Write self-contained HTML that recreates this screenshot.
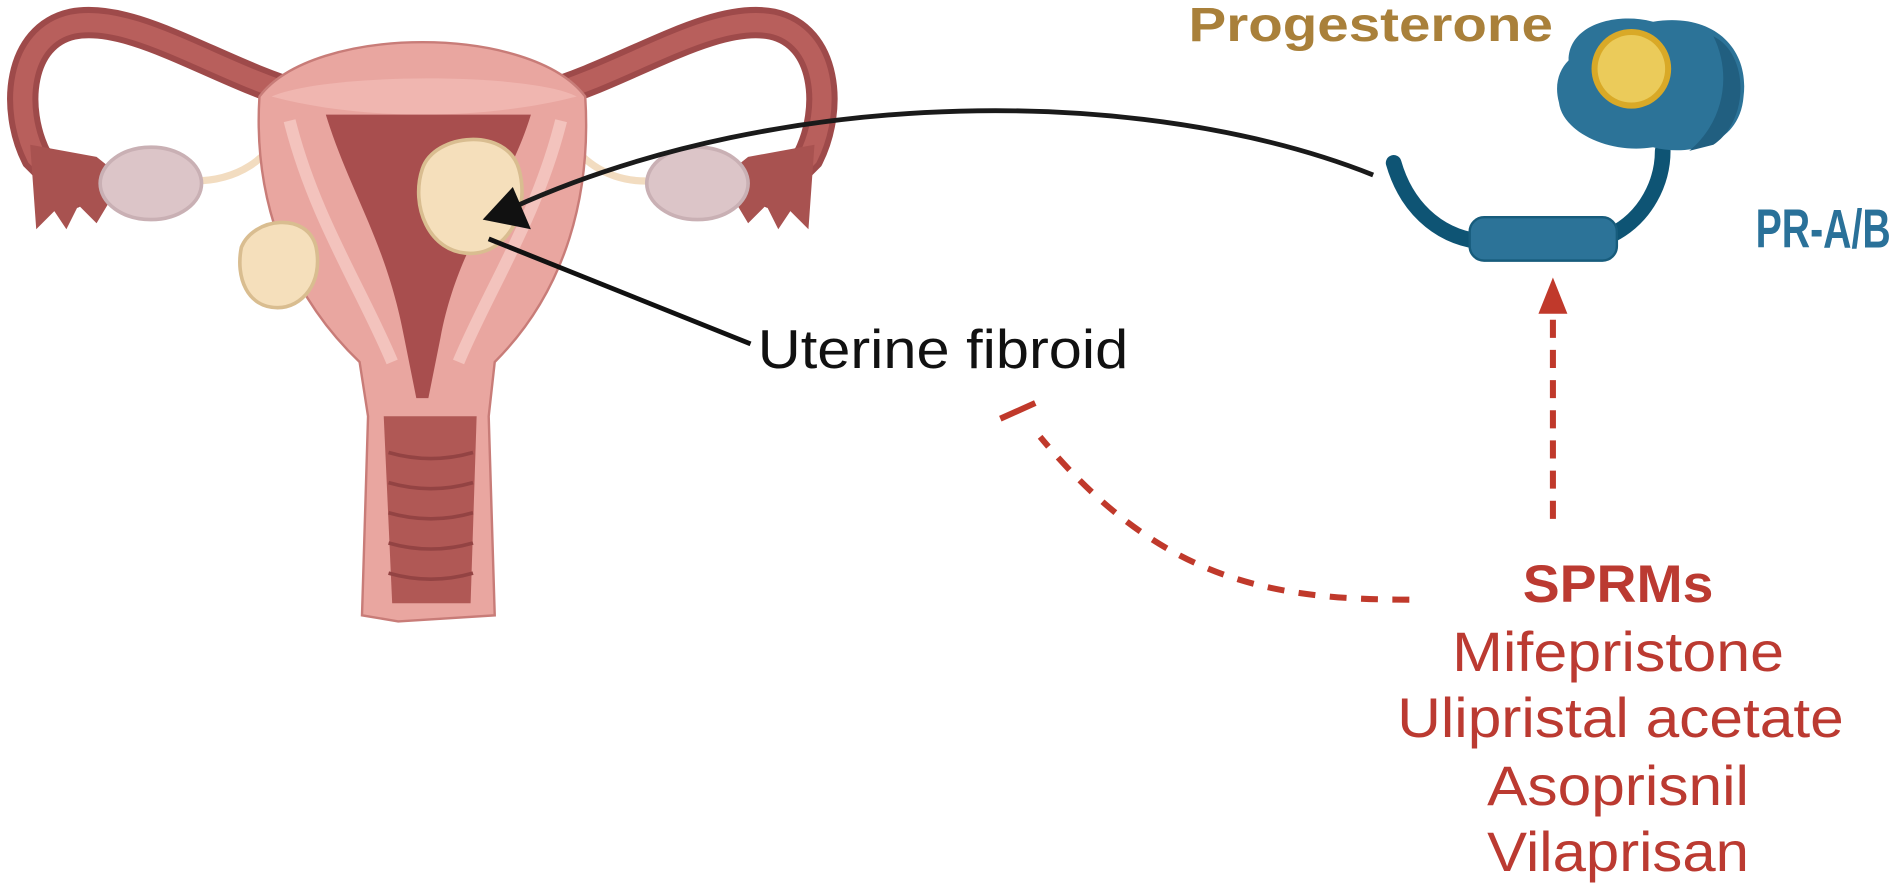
<!DOCTYPE html>
<html><head><meta charset="utf-8"><style>
html,body{margin:0;padding:0;background:#fff;}
svg{display:block;}
</style></head><body>
<svg width="1892" height="886" viewBox="0 0 1568 734.3" xmlns="http://www.w3.org/2000/svg">
<!-- fallopian tubes -->
<path d="M250 80 C180 60 110 10 60 20 C15 30 10 90 30 130 L60 160" fill="none" stroke="#9e4a4a" stroke-width="26" stroke-linecap="round"/>
<path d="M250 80 C180 60 110 10 60 20 C15 30 10 90 30 130 L60 160" fill="none" stroke="#b85f5c" stroke-width="16" stroke-linecap="round"/>
<path d="M450 80 C520 60 590 10 640 20 C685 30 690 90 670 130 L640 160" fill="none" stroke="#9e4a4a" stroke-width="26" stroke-linecap="round"/>
<path d="M450 80 C520 60 590 10 640 20 C685 30 690 90 670 130 L640 160" fill="none" stroke="#b85f5c" stroke-width="16" stroke-linecap="round"/>
<!-- fimbriae -->
<path d="M25 120 L30 190 L45 175 L55 190 L65 170 L80 185 L95 160 L105 150 L80 130 Z" fill="#a85250"/>
<path d="M675 120 L670 190 L655 175 L645 190 L635 170 L620 185 L605 160 L595 150 L620 130 Z" fill="#a85250"/>
<!-- ligaments -->
<path d="M160 150 C200 150 220 130 235 110" fill="none" stroke="#f2dcc0" stroke-width="6"/>
<path d="M535 150 C500 150 480 130 465 110" fill="none" stroke="#f2dcc0" stroke-width="6"/>
<!-- ovaries -->
<ellipse cx="125" cy="152" rx="42" ry="30" fill="#dcc5c8" stroke="#c9b0b4" stroke-width="3"/>
<ellipse cx="578" cy="152" rx="42" ry="30" fill="#dcc5c8" stroke="#c9b0b4" stroke-width="3"/>
<!-- uterus body -->
<path d="M215 80 C260 20 440 20 485 80 C490 160 470 240 410 300 L405 345 L410 510 L330 515 L300 510 L305 345 L298 300 C235 240 210 160 215 80 Z" fill="#e9a6a0" stroke="#c87c78" stroke-width="2"/>
<path d="M225 80 C300 100 400 100 478 80 C440 60 270 60 225 80 Z" fill="#f0b6b0"/>
<!-- cavity -->
<path d="M270 95 L440 95 C420 160 380 200 365 280 L355 330 L345 330 L335 280 C320 200 290 160 270 95 Z" fill="#a84e4e"/>
<path d="M240 100 C260 180 300 240 325 300" fill="none" stroke="#f3c3bd" stroke-width="10"/>
<path d="M465 100 C445 180 405 240 380 300" fill="none" stroke="#f3c3bd" stroke-width="10"/>
<!-- vagina -->
<path d="M318 345 L395 345 L390 500 L325 500 Z" fill="#b05855"/>
<g stroke="#934343" stroke-width="3" fill="none">
<path d="M322 375 Q357 385 392 375"/><path d="M322 400 Q357 410 392 400"/><path d="M322 425 Q357 435 392 425"/><path d="M322 450 Q357 460 392 450"/><path d="M322 475 Q357 485 392 475"/>
</g>
<!-- fibroids -->
<path d="M350 140 C360 110 420 105 430 140 C440 175 420 210 390 210 C355 210 340 170 350 140 Z" fill="#f5dfbb" stroke="#d9bd90" stroke-width="3"/>
<path d="M200 205 C210 180 255 175 262 205 C268 235 250 255 230 255 C205 255 195 230 200 205 Z" fill="#f5dfbb" stroke="#d9bd90" stroke-width="3"/>
<!-- black curved arrow -->
<path d="M1138 145 C950 70 650 70 425 172" fill="none" stroke="#1a1a1a" stroke-width="4"/>
<polygon points="400,182 425,155 440,190" fill="#111"/>
<line x1="405" y1="198" x2="622" y2="285" stroke="#111" stroke-width="4"/>
<text x="628" y="305" textLength="307" lengthAdjust="spacingAndGlyphs" font-family="Liberation Sans, sans-serif" font-size="45" fill="#111">Uterine fibroid</text>
<!-- receptor -->
<path d="M1155 135 C1165 170 1190 195 1225 200" fill="none" stroke="#0e5474" stroke-width="13" stroke-linecap="round"/>
<path d="M1335 195 C1365 180 1378 150 1378 125" fill="none" stroke="#0e5474" stroke-width="13" stroke-linecap="round"/>
<rect x="1218" y="180" width="122" height="36" rx="12" fill="#2c7398" stroke="#175c7c" stroke-width="2"/>
<path d="M1300 50 C1300 20 1340 10 1370 18 C1420 10 1450 40 1445 80 C1442 120 1400 130 1370 122 C1335 128 1295 110 1292 85 C1288 70 1292 58 1300 50 Z" fill="#2c7398"/>
<path d="M1420 30 C1450 45 1450 100 1420 120 L1400 125 C1430 100 1435 60 1420 30 Z" fill="#215f80"/>
<circle cx="1352" cy="57" r="33" fill="#d9a927"/>
<circle cx="1352" cy="57" r="28" fill="#ebcb5a"/>
<text x="985" y="34" textLength="302" lengthAdjust="spacingAndGlyphs" font-family="Liberation Sans, sans-serif" font-weight="bold" font-size="40" fill="#a9803a">Progesterone</text>
<text x="1455" y="205" textLength="112" lengthAdjust="spacingAndGlyphs" font-family="Liberation Sans, sans-serif" font-weight="bold" font-size="45" fill="#2a7199">PR-A/B</text>
<!-- red dashed vertical arrow -->
<line x1="1287" y1="430" x2="1287" y2="262" stroke="#c0392b" stroke-width="5" stroke-dasharray="15,10"/>
<polygon points="1287,230 1275,260 1299,260" fill="#c0392b"/>
<!-- red dashed inhibit curve -->
<path d="M1168 497 C1050 497 960 480 862 362" fill="none" stroke="#c0392b" stroke-width="5" stroke-dasharray="14,12"/>
<line x1="829" y1="347" x2="858" y2="334" stroke="#c0392b" stroke-width="5"/>
<!-- SPRM text -->
<g font-family="Liberation Sans, sans-serif" fill="#bb3a31" text-anchor="middle">
<text x="1341" y="499" textLength="158" lengthAdjust="spacingAndGlyphs" font-weight="bold" font-size="44">SPRMs</text>
<text x="1341" y="556" textLength="275" lengthAdjust="spacingAndGlyphs" font-size="46">Mifepristone</text>
<text x="1343" y="611" textLength="370" lengthAdjust="spacingAndGlyphs" font-size="46">Ulipristal acetate</text>
<text x="1341" y="667" textLength="217" lengthAdjust="spacingAndGlyphs" font-size="46">Asoprisnil</text>
<text x="1341" y="722" textLength="217" lengthAdjust="spacingAndGlyphs" font-size="46">Vilaprisan</text>
</g>
</svg>
</body></html>
